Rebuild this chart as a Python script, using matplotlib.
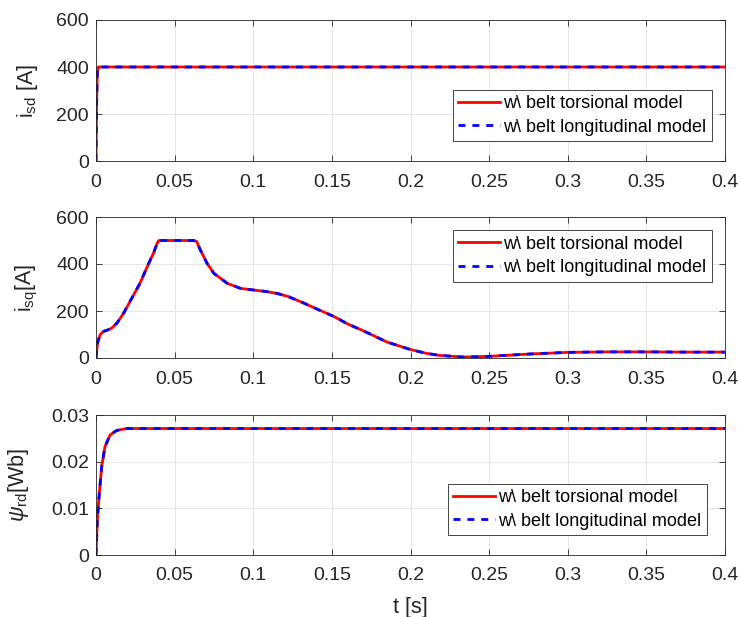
import matplotlib
matplotlib.use("Agg")
import matplotlib.pyplot as plt

# --- datos ---
t_isd = [0, 0.0004, 0.0008, 0.0012, 0.0016, 0.4]
isd = [0, 250, 370, 395, 400, 400]

t_isq = [0, 0.001, 0.0026, 0.0047, 0.007, 0.01, 0.0135, 0.0175, 0.022, 0.028,
         0.033, 0.0365, 0.039, 0.040, 0.062, 0.064, 0.0664, 0.0707, 0.075,
         0.0834, 0.092, 0.1005, 0.108, 0.115, 0.122, 0.130, 0.14, 0.1515,
         0.16, 0.1686, 0.175, 0.185, 0.2, 0.21, 0.2185, 0.2334, 0.25, 0.26,
         0.276, 0.3, 0.325, 0.35, 0.375, 0.4]
isq = [0, 65, 99, 113, 118, 127, 150, 190, 245, 318,
       395, 445, 490, 500, 500, 496, 459, 402, 360,
       318, 296, 289, 283, 275, 262, 240, 210, 176,
       145, 120, 100, 68, 36, 20, 11, 4, 7, 11,
       17, 24, 26, 26, 25, 25]

t_psi = [0, 0.00085, 0.0021, 0.0036, 0.0057, 0.0089, 0.0132, 0.0196, 0.03, 0.4]
psi = [0, 0.0075, 0.0132, 0.0189, 0.0232, 0.0257, 0.0267, 0.0271, 0.0271, 0.0271]

xticks = [0, 0.05, 0.1, 0.15, 0.2, 0.25, 0.3, 0.35, 0.4]
xtick_labels = ['0', '0.05', '0.1', '0.15', '0.2', '0.25', '0.3', '0.35', '0.4']
yticks_i = [0, 200, 400, 600]
yticks_psi = [0, 0.01, 0.02, 0.03]
ytick_labels_psi = ['0', '0.01', '0.02', '0.03']

leyenda = ['w\\ belt torsional model', 'w\\ belt longitudinal model']

plt.rcParams['font.family'] = ['Liberation Sans', 'DejaVu Sans']
plt.rcParams['mathtext.fontset'] = 'custom'
plt.rcParams['mathtext.rm'] = 'Liberation Sans'
plt.rcParams['mathtext.it'] = 'Liberation Sans:italic'

fig = plt.figure(figsize=(7.41, 6.17), dpi=100)

izq, ancho = 96 / 741, 629 / 741
ax1 = fig.add_axes([izq, 1 - 161 / 617, ancho, 141 / 617])
ax2 = fig.add_axes([izq, 1 - 358 / 617, ancho, 141 / 617])
ax3 = fig.add_axes([izq, 1 - 555 / 617, ancho, 140 / 617])

def dibujar(ax, t, y):
    ax.plot(t, y, color='red', linestyle='-', linewidth=2, label=leyenda[0])
    ax.plot(t, y, color='blue', linestyle=(0, (2.5, 2.5)), linewidth=2, label=leyenda[1])

def estilo(ax, yticks, ylabels):
    ax.set_xlim(0, 0.4)
    ax.set_xticks(xticks)
    ax.set_xticklabels(xtick_labels)
    ax.set_yticks(yticks)
    ax.set_yticklabels(ylabels)
    ax.set_ylim(yticks[0], yticks[-1])
    ax.grid(True, color='#e6e6e6', linewidth=0.7)
    ax.set_axisbelow(True)
    ax.tick_params(direction='in', top=True, right=True, labelsize=14,
                   colors='#262626', length=4, width=0.6)
    ax.tick_params(axis='x', pad=9)
    ax.tick_params(axis='y', pad=5)
    for s in ax.spines.values():
        s.set_color('#262626')
        s.set_linewidth(0.6)

def poner_leyenda(ax, loc, ancla):
    leg = ax.legend(loc=loc, bbox_to_anchor=ancla, borderaxespad=0,
                    fontsize=13, fancybox=False, framealpha=1,
                    edgecolor='#262626', handlelength=2.3, handletextpad=0.2,
                    borderpad=0.3, labelspacing=0.35)
    leg.get_frame().set_linewidth(0.6)

dibujar(ax1, t_isd, isd)
estilo(ax1, yticks_i, [str(v) for v in yticks_i])
ax1.set_ylabel(r'$\mathrm{i_{sd}}$ [A]', fontsize=15.5, color='#262626')
poner_leyenda(ax1, 'lower right', (0.979, 0.142))

dibujar(ax2, t_isq, isq)
estilo(ax2, yticks_i, [str(v) for v in yticks_i])
ax2.set_ylabel(r'$\mathrm{i_{sq}}$[A]', fontsize=15.5, color='#262626')
poner_leyenda(ax2, 'upper right', (0.979, 0.905))

dibujar(ax3, t_psi, psi)
estilo(ax3, yticks_psi, ytick_labels_psi)
ax3.set_ylabel(r'$\psi_{\mathrm{rd}}$[Wb]', fontsize=15.5, color='#262626')
ax3.set_xlabel('t [s]', fontsize=15.5, color='#262626', labelpad=9)
poner_leyenda(ax3, 'lower right', (0.971, 0.143))

ax1.yaxis.set_label_coords(-0.089, 0.5)
ax2.yaxis.set_label_coords(-0.089, 0.5)
ax3.yaxis.set_label_coords(-0.103, 0.5)

fig.savefig('out.png', dpi=100)
